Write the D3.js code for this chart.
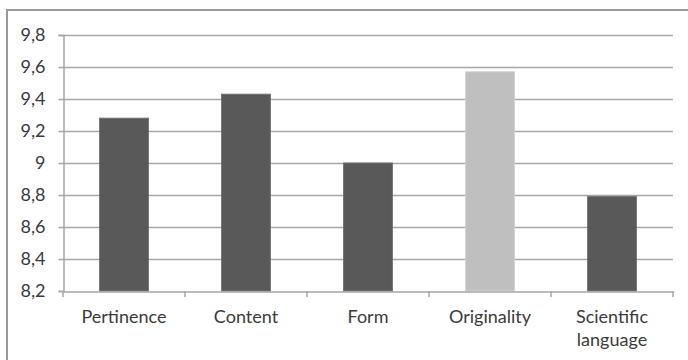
<!DOCTYPE html>
<html>
<head>
<meta charset="utf-8">
<script src="https://cdn.jsdelivr.net/npm/d3@7"></script>
<style>
  html, body { margin: 0; padding: 0; background: #fff; }
  svg text { font-family: Lato, "Open Sans", sans-serif; fill: #3a3a3a; }
</style>
</head>
<body>
<svg id="chart" width="688" height="360"></svg>
<script>
const categories = ["Pertinence", "Content", "Form", "Originality", "Scientific language"];
const values = [9.28, 9.43, 9.0, 9.57, 8.79];
const highlighted = ["Originality"];
const yTicks = [8.2, 8.4, 8.6, 8.8, 9.0, 9.2, 9.4, 9.6, 9.8];

(function () {
const svg = d3.select("#chart");
const mLeft = 63, mRight = 673, mTop = 35, mBottom = 291;

const x = d3.scaleBand().domain(categories).range([mLeft, mRight]).paddingInner(0.6).paddingOuter(0.3);
const xb = d3.scaleBand().domain(categories).range([mLeft, mRight]);
const y = d3.scaleLinear().domain([8.2, 9.8]).range([mBottom, mTop]);

// chart border (top and left)
svg.append("path").attr("d", "M7,360 V10 H688").attr("fill", "none").attr("stroke", "#9a9a9a").attr("stroke-width", 2);

// gridlines
svg.append("g").selectAll("line").data(yTicks.slice(1)).join("line")
  .attr("x1", mLeft).attr("x2", mRight)
  .attr("y1", d => y(d) + 0.5).attr("y2", d => y(d) + 0.5)
  .attr("stroke", "#a6a6a6").attr("stroke-width", 1.5);

// y axis
const fmt = d => d3.format(".1f")(d).replace(/\.0$/, "").replace(".", ",");
const yAxis = svg.append("g").attr("transform", `translate(${mLeft + 0.5},0)`)
  .call(d3.axisLeft(y).tickValues(yTicks).tickFormat(fmt).tickSize(5).tickPadding(13));
yAxis.select(".domain").attr("stroke", "#a6a6a6").attr("stroke-width", 1.5);
yAxis.selectAll(".tick line").attr("stroke", "#a6a6a6").attr("stroke-width", 1.5);
yAxis.selectAll(".tick text").attr("font-size", 18).attr("font-family", "Lato, sans-serif").attr("fill", "#3a3a3a");

// bars
svg.append("g").selectAll("rect").data(categories).join("rect")
  .attr("x", d => x(d))
  .attr("width", x.bandwidth())
  .attr("y", (d, i) => y(values[i]))
  .attr("height", (d, i) => y(8.2) - y(values[i]))
  .attr("fill", d => highlighted.includes(d) ? "#bfbfbf" : "#595959")
  .attr("stroke", d => highlighted.includes(d) ? "#d0d0d0" : "#707070")
  .attr("stroke-width", 1);

// x axis
const xAxis = svg.append("g").attr("transform", `translate(0,${mBottom + 0.5})`)
  .call(d3.axisBottom(xb).tickSize(0).tickFormat(""));
xAxis.select(".domain").attr("stroke", "#a6a6a6").attr("stroke-width", 1.5);
svg.append("g").selectAll("line").data([...categories.map(c => xb(c)), mRight]).join("line")
  .attr("x1", d => d).attr("x2", d => d)
  .attr("y1", mBottom).attr("y2", mBottom + 6)
  .attr("stroke", "#a6a6a6").attr("stroke-width", 1.5);

// x labels
const lbl = svg.append("g").selectAll("text").data(categories).join("text")
  .attr("x", d => xb(d) + xb.bandwidth() / 2)
  .attr("y", 323)
  .attr("text-anchor", "middle")
  .attr("font-size", 18);
lbl.each(function(d) {
  const words = d === "Scientific language" ? ["Scientific", "language"] : [d];
  d3.select(this).selectAll("tspan").data(words).join("tspan")
    .attr("x", xb(d) + xb.bandwidth() / 2)
    .attr("dy", (w, i) => i === 0 ? 0 : 23)
    .text(w => w);
});
})();
</script>
</body>
</html>
